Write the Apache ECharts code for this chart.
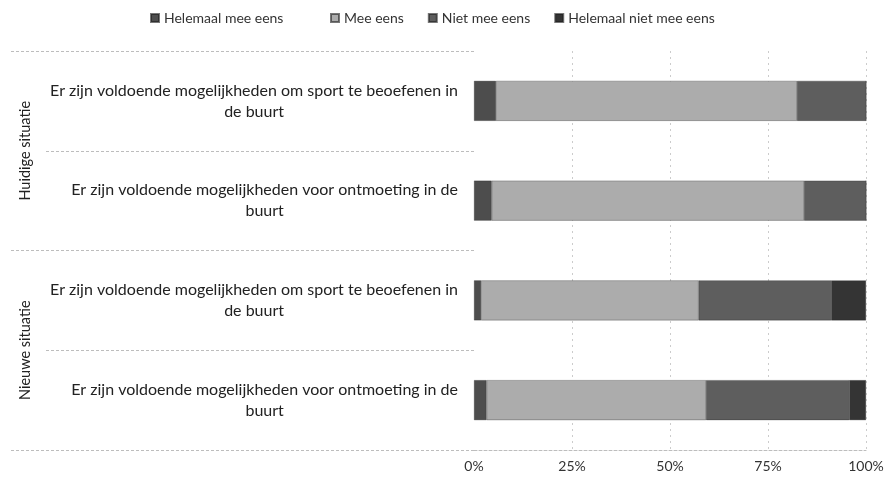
<!DOCTYPE html>
<html>
<head>
<meta charset="utf-8">
<script src="https://cdn.jsdelivr.net/npm/echarts@6/dist/echarts.min.js"></script>
<style>html,body{margin:0;padding:0;background:#fff;}#c{width:891px;height:484px;}</style>
</head>
<body>
<div id="c"></div>
<script>
var groups = ['Huidige situatie', 'Nieuwe situatie'];
var questions = [
  'Er zijn voldoende mogelijkheden om sport te beoefenen in\nde buurt',
  'Er zijn voldoende mogelijkheden voor ontmoeting in de\nbuurt',
  'Er zijn voldoende mogelijkheden om sport te beoefenen in\nde buurt',
  'Er zijn voldoende mogelijkheden voor ontmoeting in de\nbuurt'
];
var seriesNames = ['Helemaal mee eens', 'Mee eens', 'Niet mee eens', 'Helemaal niet mee eens'];
var helemaalMeeEens = [5.6, 4.5, 1.8, 3.2];
var meeEens = [76.8, 79.7, 55.5, 56.0];
var nietMeeEens = [17.6, 15.8, 33.8, 36.5];
var helemaalNietMeeEens = [0, 0, 8.9, 4.3];
var xTicks = [0, 25, 50, 75, 100];

var colors = ['#4d4d4d', '#acacac', '#5e5e5e', '#343434'];
var values = [helemaalMeeEens, meeEens, nietMeeEens, helemaalNietMeeEens];
var FONT = 'Lato';
var legendText = {fontFamily: FONT, fontSize: 14, color: '#333'};

var chart = echarts.init(document.getElementById('c'), null, {renderer: 'canvas'});
var option = {
  animation: false,
  backgroundColor: '#ffffff',
  textStyle: {fontFamily: FONT},
  legend: [{
    top: 6, left: 145,
    itemWidth: 8, itemHeight: 8, icon: 'rect',
    textStyle: legendText,
    data: [seriesNames[0]]
  }, {
    top: 6, left: 325,
    itemWidth: 8, itemHeight: 8, itemGap: 24, icon: 'rect',
    textStyle: legendText,
    data: seriesNames.slice(1)
  }],
  grid: {left: 474, right: 25, top: 51, bottom: 34, containLabel: false},
  xAxis: {
    type: 'value', min: xTicks[0], max: xTicks[xTicks.length - 1], interval: 25,
    axisLine: {show: true, lineStyle: {color: '#bdbdbd', type: [3, 2], width: 1}},
    axisTick: {show: false},
    axisLabel: {formatter: '{value}%', fontFamily: FONT, fontSize: 14, color: '#333', margin: 9},
    splitLine: {show: true, lineStyle: {color: ['transparent', '#cccccc', '#cccccc', '#cccccc', '#cccccc'], type: [2, 4], width: 1}}
  },
  yAxis: [{
    type: 'category', inverse: true, position: 'left',
    data: questions,
    axisLine: {show: false},
    axisTick: {show: true, length: 429, lineStyle: {color: '#bdbdbd', type: [3, 2], width: 1}},
    axisLabel: {
      margin: 16, align: 'right',
      formatter: function (v) {
        return v.split('\n').map(function (l) { return '{c|' + l + '}'; }).join('\n');
      },
      rich: {c: {align: 'center', fontFamily: FONT, fontSize: 16, color: '#222', lineHeight: 21}}
    }
  }, {
    type: 'category', inverse: true, position: 'left',
    data: groups,
    axisLine: {show: false},
    axisTick: {show: true, length: 464, lineStyle: {color: '#bdbdbd', type: [3, 2], width: 1}},
    axisLabel: {
      rotate: 90, margin: 449, align: 'center', verticalAlign: 'middle',
      fontFamily: FONT, fontSize: 14.5, color: '#222'
    }
  }],
  series: seriesNames.map(function (n, i) {
    return {
      name: n, type: 'bar', stack: 'total', yAxisIndex: 0,
      barWidth: 40,
      itemStyle: {color: colors[i], borderColor: 'rgba(30,30,30,0.6)', borderWidth: 0.5},
      data: values[i]
    };
  })
};
chart.setOption(option);
</script>
</body>
</html>
